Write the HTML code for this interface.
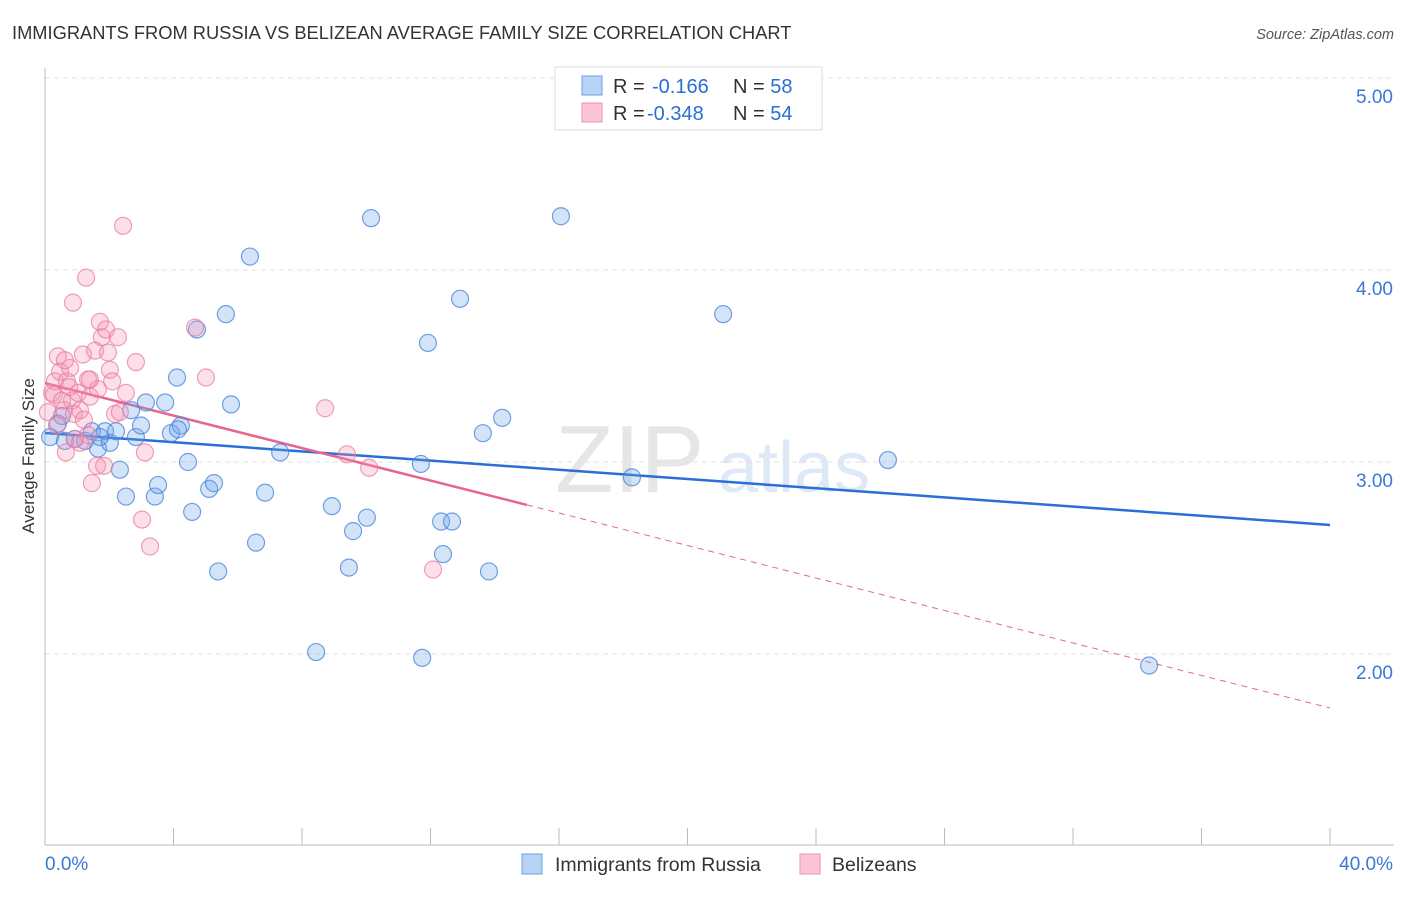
<!DOCTYPE html>
<html><head><meta charset="utf-8"><style>
body{margin:0;background:#fff;font-family:"Liberation Sans",sans-serif;}
svg text{font-family:"Liberation Sans",sans-serif;}
</style></head><body>
<svg id="chart" width="1406" height="892" xmlns="http://www.w3.org/2000/svg">
<text x="12" y="39" font-size="18.3" fill="#333">IMMIGRANTS FROM RUSSIA VS BELIZEAN AVERAGE FAMILY SIZE CORRELATION CHART</text>
<text x="1394" y="39" font-size="14.5" fill="#555" font-style="italic" text-anchor="end">Source: ZipAtlas.com</text>
<g>
<text x="555" y="492" font-size="96" fill="#dcdcdc" font-family="Liberation Serif" opacity="0.7">ZIP</text>
<text x="718" y="492" font-size="72" fill="#cfe0f3" opacity="0.7">atlas</text>
</g>
<g id="grid"></g>
<g id="axes"></g>
<g id="trend"></g>
<g id="pts"></g>
<text transform="translate(34,456) rotate(-90)" font-size="17" fill="#333" text-anchor="middle">Average Family Size</text>
<g>
<rect x="555" y="67" width="267" height="63" fill="#fff" stroke="#ddd"/>
<rect x="582" y="76" width="20" height="19" fill="#b8d3f5" stroke="#6a9fe0"/>
<rect x="582" y="103" width="20" height="19" fill="#fbc5d5" stroke="#ef92b0"/>
<text x="613" y="93" font-size="20" fill="#333">R = <tspan x="652" fill="#2a6fd6">-0.166</tspan><tspan x="733" fill="#333">N = </tspan><tspan fill="#2a6fd6">58</tspan></text>
<text x="613" y="120" font-size="20" fill="#333">R = <tspan x="647" fill="#2a6fd6">-0.348</tspan><tspan x="733" fill="#333">N = </tspan><tspan fill="#2a6fd6">54</tspan></text>
</g>
<g>
<rect x="522" y="854" width="20" height="20" fill="#b8d3f5" stroke="#6a9fe0"/>
<text x="555" y="871" font-size="19.5" fill="#333">Immigrants from Russia</text>
<rect x="800" y="854" width="20" height="20" fill="#fbc5d5" stroke="#ef92b0"/>
<text x="832" y="871" font-size="19.5" fill="#333">Belizeans</text>
</g>
</svg>
<script>
const xTicks=[0,40];
const yTicks=[2,3,4,5];
const russiaX=[0.16,0.40,0.62,0.93,1.25,1.46,1.65,1.87,2.02,2.21,2.33,2.52,2.68,2.83,2.99,3.14,3.42,3.52,3.74,3.92,4.11,4.23,4.45,4.58,4.73,5.11,5.26,5.39,5.63,5.79,6.38,6.57,6.85,7.32,8.44,8.93,9.46,9.59,10.02,10.15,11.70,11.74,11.92,12.33,12.39,12.67,12.92,13.63,13.82,14.23,16.06,18.27,21.11,26.24,34.37,0.53,1.71,4.14];
const russiaY=[3.13,3.20,3.11,3.12,3.11,3.16,3.07,3.16,3.10,3.16,2.96,2.82,3.27,3.13,3.19,3.31,2.82,2.88,3.31,3.15,3.44,3.19,3.00,2.74,3.69,2.86,2.89,2.43,3.77,3.30,4.07,2.58,2.84,3.05,2.01,2.77,2.45,2.64,2.71,4.27,2.99,1.98,3.62,2.69,2.52,2.69,3.85,3.15,2.43,3.23,4.28,2.92,3.77,3.01,1.94,3.24,3.13,3.17];
const belizeX=[0.22,0.31,0.40,0.47,0.59,0.65,0.68,0.78,0.84,0.90,0.93,1.03,1.09,1.18,1.28,1.34,1.40,1.46,1.56,1.62,1.71,1.77,1.84,1.90,1.96,2.02,2.09,2.18,2.27,2.43,2.52,2.83,3.02,3.11,3.27,4.67,5.01,8.72,9.40,10.09,12.08,0.87,1.34,0.28,0.09,0.53,0.75,1.21,1.65,2.33,0.37,1.09,0.62,1.40];
const belizeY=[3.36,3.42,3.55,3.47,3.27,3.05,3.42,3.49,3.32,3.25,3.12,3.36,3.27,3.56,3.96,3.43,3.34,2.89,3.58,2.98,3.73,3.65,2.98,3.69,3.57,3.48,3.42,3.25,3.65,4.23,3.36,3.52,2.70,3.05,2.56,3.70,3.44,3.28,3.04,2.97,2.44,3.83,3.14,3.35,3.26,3.32,3.39,3.22,3.38,3.26,3.19,3.10,3.53,3.43];
const russiaTrend=[3.151,2.672];
const belizeTrend=[3.411,1.719];
const belizeSolidEnd=15;
const NS='http://www.w3.org/2000/svg';
const X=v=>45+v/40*1285;
const Y=v=>78+(5-v)*192;
function mk(t,a,p){const e=document.createElementNS(NS,t);for(const k in a)e.setAttribute(k,a[k]);p.appendChild(e);return e;}
const grid=document.getElementById('grid'),axes=document.getElementById('axes'),trend=document.getElementById('trend'),pts=document.getElementById('pts');
yTicks.forEach(v=>{
 const l=mk('line',{x1:45,x2:1394,y1:Y(v),y2:Y(v),stroke:'#e2e2e2','stroke-dasharray':'5,4'},grid);
 
 
 const t=mk('text',{x:1393,y:Y(v)+25,'font-size':19,fill:'#3a78d8','text-anchor':'end'},grid);
 t.textContent=v.toFixed(2);
 
 
});
const ax=mk('line',{x1:45,x2:1394,y1:845,y2:845,stroke:'#bbb'},axes);


const ay=mk('line',{x1:45,x2:45,y1:68,y2:845,stroke:'#bbb'},axes);


for(let i=0;i<=10;i++){
 const tk=mk('line',{x1:X(i*4),x2:X(i*4),y1:828,y2:845,stroke:'#bbb'},axes);
 
 
}
xTicks.forEach((v,i)=>{
 const t=mk('text',{x:i==0?45:1393,y:870,'font-size':19,fill:'#3a78d8','text-anchor':i==0?'start':'end'},axes);
 t.textContent=v.toFixed(1)+'%';
 
 
});
function pt(xs,ys,fill,stroke,name){
 xs.forEach((x,i)=>{
  const c=mk('circle',{cx:X(x),cy:Y(ys[i]),r:8.5,fill:fill,stroke:stroke,'stroke-width':1.2},pts);
  
  
 });
}
pt(russiaX,russiaY,'rgba(110,165,235,0.3)','rgba(70,130,215,0.75)','russia-point');
pt(belizeX,belizeY,'rgba(245,150,180,0.3)','rgba(232,120,160,0.7)','belizean-point');
const bl=mk('line',{x1:X(0),y1:Y(russiaTrend[0]),x2:X(40),y2:Y(russiaTrend[1]),stroke:'#2a6fd6','stroke-width':2.5},trend);


const yAt=x=>belizeTrend[0]+(belizeTrend[1]-belizeTrend[0])*x/40;
const pl=mk('line',{x1:X(0),y1:Y(belizeTrend[0]),x2:X(belizeSolidEnd),y2:Y(yAt(belizeSolidEnd)),stroke:'#e8648f','stroke-width':2.5},trend);


const pd=mk('line',{x1:X(belizeSolidEnd),y1:Y(yAt(belizeSolidEnd)),x2:X(40),y2:Y(belizeTrend[1]),stroke:'#e8648f','stroke-width':1,'stroke-dasharray':'6,5'},trend);


</script>
</body></html>
